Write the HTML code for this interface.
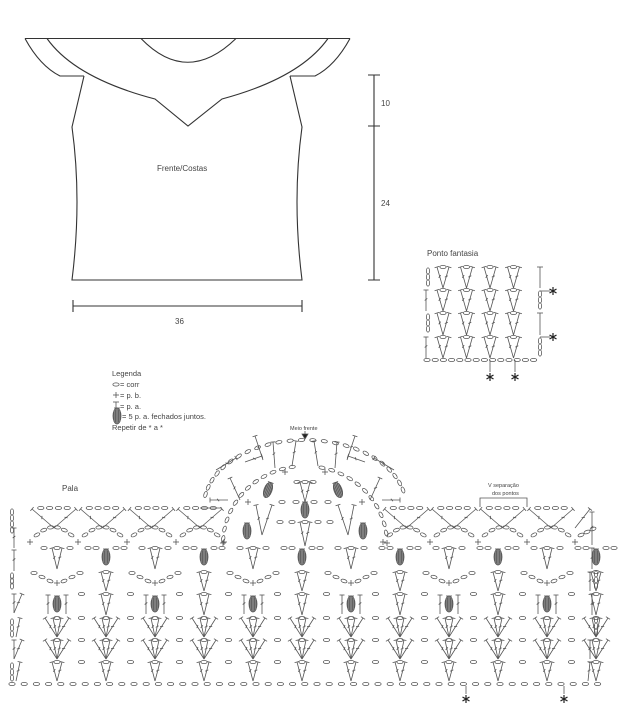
<!DOCTYPE html>
<html><head><meta charset="utf-8">
<style>
html,body{margin:0;padding:0;background:#fff;}
svg{display:block;}
text{font-family:"Liberation Sans",sans-serif;fill:#444;}
</style></head>
<body>
<svg id="s" width="623" height="722" viewBox="0 0 623 722" xmlns="http://www.w3.org/2000/svg">
<g fill="none" stroke="#333" stroke-width="1.1">
<path d="M25,38.5 H350"/>
<path d="M141,38.5 Q187,86 236,38.5"/>
<path d="M25,38.5 Q40,66 60,76 H84"/>
<path d="M350,38.5 Q335,66 315,76 H290"/>
<path d="M47,38.5 Q75,78 155,99 L188,126 L222,99 Q300,78 328,38.5"/>
<path d="M84,76 L72,127 Q82,200 72,280 H302 Q292,200 302,127 L290,76"/>
<path d="M374,75 V280 M368,75 H380 M368,126 H380 M368,280 H380"/>
<path d="M73,306 H302 M73,300 V312 M302,300 V312"/>
</g>
<text x="157" y="171" font-size="8">Frente/Costas</text>
<text x="381" y="106" font-size="8">10</text>
<text x="381" y="206" font-size="8">24</text>
<text x="175" y="324" font-size="8">36</text>
<text x="427" y="256" font-size="8">Ponto fantasia</text>
<text x="112" y="376" font-size="7.5">Legenda</text>
<text x="120" y="387" font-size="7.5">= corr</text>
<text x="120" y="398" font-size="7.5">= p. b.</text>
<text x="120" y="409" font-size="7.5">= p. a.</text>
<text x="122" y="419" font-size="7.5">= 5 p. a. fechados juntos.</text>
<text x="112" y="430" font-size="7.5">Repetir de * a *</text>
<text x="290" y="430" font-size="5.5">Meio frente</text>
<text x="62" y="491" font-size="8">Pala</text>
<text x="488" y="487" font-size="5.5">V  separação</text>
<text x="492" y="495" font-size="5.5">dos pontos</text>
<g id="g" fill="none" stroke="#555" stroke-width="0.8"></g>
</svg>
<script>
var h='';
function ch(x,y,r){r=r||0;h+='<ellipse cx="'+x.toFixed(1)+'" cy="'+y.toFixed(1)+'" rx="3.1" ry="1.6" transform="rotate('+r.toFixed(1)+' '+x.toFixed(1)+' '+y.toFixed(1)+')"/>';}
function ln(a,b,c,d){h+='<line x1="'+a.toFixed(1)+'" y1="'+b.toFixed(1)+'" x2="'+c.toFixed(1)+'" y2="'+d.toFixed(1)+'"/>';}
function dc(x1,y1,x2,y2){
 ln(x1,y1,x2,y2);var dx=x2-x1,dy=y2-y1,L=Math.hypot(dx,dy),ux=dx/L,uy=dy/L,px=-uy,py=ux;
 ln(x2-px*2.5,y2-py*2.5,x2+px*2.5,y2+py*2.5);
 var mx=x1+dx*0.55,my=y1+dy*0.55;ln(mx-px*1.3-ux*1,my-py*1.3-uy*1,mx+px*1.3+ux*1,my+py*1.3+uy*1);}
function sc(x,y){ln(x-3,y,x+3,y);ln(x,y-3,x,y+3);}
function cl(x,y,r){r=r||0;h+='<g transform="rotate('+r+' '+x+' '+y+')"><ellipse cx="'+x+'" cy="'+y+'" rx="4" ry="8" fill="#999"/>';
 for(var i=-2;i<=2;i++){ln(x+i*1.5,y-7.5+Math.abs(i),x+i*1.5,y+7.5-Math.abs(i));}h+='<line x1="'+(x-3)+'" y1="'+(y-8)+'" x2="'+(x+3)+'" y2="'+(y-8)+'"/></g>';}
function star(x,y){h+='<g stroke="#222" stroke-width="1.2"><line x1="'+x+'" y1="'+(y-4)+'" x2="'+x+'" y2="'+(y+4)+'"/><line x1="'+(x-3.5)+'" y1="'+(y-2)+'" x2="'+(x+3.5)+'" y2="'+(y+2)+'"/><line x1="'+(x-3.5)+'" y1="'+(y+2)+'" x2="'+(x+3.5)+'" y2="'+(y-2)+'"/></g>';}
function chainLine(y,x0,x1,st){for(var x=x0;x<=x1;x+=st)ch(x,y);}
var pT=[267,290,313,337],pB=[288,311,335,358];
chainLine(360,427,540,8.2);
for(var r=0;r<4;r++){
 var t=pT[r],b=pB[r];
 for(var k=0;k<4;k++){var c=443+k*23.5;dc(c,b,c-6,t);dc(c,b,c+6,t);ch(c,t);}
 if(r%2==0){for(var j=0;j<3;j++)ch(428,t+4+j*6,90);ln(540,t,540,b);ln(537,t,543,t);}
 else{dc(426,b,426,t);for(var j=0;j<3;j++)ch(540,t+4+j*6,90);}
}
ln(540,291,550,291);ln(540,337,550,337);ln(490,360,490,372);ln(515,360,515,372);
star(553,291);star(553,337);star(490,377);star(515,377);
ch(116,384.5);sc(116,395);ln(116,409,116,402);ln(113,402,119,402);cl(117,416,0);
ln(305,431,305,436);h+='<path d="M302,434 L308,434 L305,439 Z" fill="#222"/>';
var P=49,C0=57;
chainLine(684,12,598,12.2);
function fan(c,b,t,n){var off=n==2?[-5,5]:[-12,-4,4,12];for(var i=0;i<off.length;i++)dc(c,b,c+off[i],t);ch(c,t);}
var rows={A:[662,681],B:[640,659],C:[618,637],D:[594,615],E:[572,591],F:[548,569]};
for(var k=0;k<12;k++){var c=C0+k*P;if(c>600)break;var m=c+P/2;
 fan(c,rows.A[1],rows.A[0],2); if(m<596)ch(m,662);
 fan(c,rows.B[1],rows.B[0],4); if(m<596)ch(m,640);
 fan(c,rows.C[1],rows.C[0],4); if(m<596)ch(m,618);
 if(k%2==0){cl(c,604);dc(c-9,614,c-9,595);dc(c+9,614,c+9,595);}else{fan(c,rows.D[1],rows.D[0],2);}
 if(m<596)ch(m,594);
 if(k%2==0){sc(c,583);ch(c-7,581,20);ch(c+7,581,-20);ch(c-15,577,15);ch(c+15,577,-15);ch(c-23,573);ch(c+23,573);}else{fan(c,rows.E[1],rows.E[0],2);}
 if(k%2==0){fan(c,rows.F[1],rows.F[0],2);ch(c-13,548);ch(c+13,548);}else{cl(c,557);ch(c-10,548);ch(c+10,548);ch(c-18,548);ch(c+18,548);}
}
[662,618].forEach(function(t){for(var j=0;j<3;j++)ch(12,t+4+j*6,90);dc(16,t+19,20,t);});
[640,594].forEach(function(t){dc(14,t+19,14,t);dc(14,t+19,22,t);});
dc(14,571,14,550);for(var j=0;j<3;j++)ch(12,576+j*5,90);
dc(588,681,590,662);dc(590,659,590,640);for(var j=0;j<3;j++)ch(596,620+j*6,90);dc(592,615,592,594);dc(590,591,590,572);
for(var j=0;j<3;j++)ch(596,574+j*6,90);dc(592,569,592,548);
function arches(list){for(var i=0;i<list.length-1;i++){var a=list[i],b=list[i+1],pk=(a+b)/2;
 for(var j=1;j<=6;j++){var tt=j/7,x=a+(b-a)*tt,y=541-14*Math.sin(Math.PI*tt);ch(x,y,-Math.cos(Math.PI*tt)*30);}
 dc(pk,528,pk-22,509);dc(pk,528,pk+22,509);for(var j=1;j<=4;j++)ch(pk-22+j*8.8,508);}
 list.forEach(function(x){sc(x,542);});}
arches([30,78,127,176,224]);
arches([383,430,478,527,575]);
for(var j=0;j<4;j++)ch(12,512+j*6,90);dc(14,548,14,528);
for(var j=1;j<=3;j++)ch(575+j*6,538-j*3,-20);dc(575,528,590,509);dc(592,545,592,512);
ln(200,508,222,508);
h+='<path d="M480,507 V498 H527 V507" />';
var cx=305;
for(var a=10;a<=170;a+=6.5){var rad=a*Math.PI/180;ch(cx-101*Math.cos(rad),506-66*Math.sin(rad),-(90-a)*0.9);}
for(var a=4;a<=176;a+=7){var rad=a*Math.PI/180;var x=cx-82*Math.cos(rad),y=544-78*Math.sin(rad);if(Math.abs(a-90)>8)ch(x,y,(a-90)*0.9);}
sc(223,543);sc(387,543);sc(248,502);sc(362,502);sc(285,472);sc(325,472);
[[216,470,236,458],[228,500,210,500],[245,462,262,456],[263,460,255,436],[275,468,273,442],[292,466,296,441],[318,466,314,441],[335,468,337,442],[347,460,355,436],[365,462,348,456],[382,500,400,500],[394,470,374,458]].forEach(function(s){dc(s[0],s[1],s[2],s[3]);});
dc(240,500,230,478);dc(370,500,380,478);
cl(268,490,20);cl(338,490,-20);cl(305,510);cl(247,531);cl(363,531);
fan(305,502,482,2);ch(297,482);ch(313,482);
fan(305,546,522,2);ch(292,522);ch(318,522);ch(280,522);ch(330,522);
dc(262,535,256,505);dc(262,535,272,505);dc(348,535,354,505);dc(348,535,338,505);
ch(282,502);ch(328,502);ch(296,502);ch(314,502);
ln(466,686,466,694);ln(564,686,564,694);star(466,699);star(564,699);
document.getElementById('g').innerHTML=h;
</script>
</body></html>
